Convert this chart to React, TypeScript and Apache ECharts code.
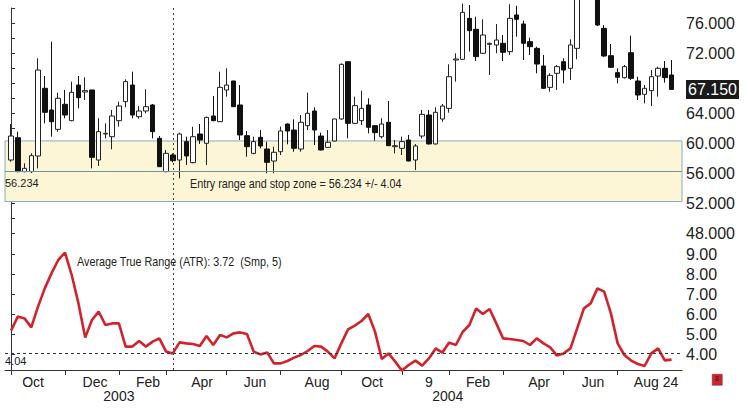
import React, { useEffect, useRef } from "react";
import * as echarts from "echarts";

// Weekly candles (index = week number)
const opens = [57.73,60.71,56.18,56.18,58.27,67.29,64.4,61.82,65.16,62.98,67.73,66.8,67.07,57.73,61.2,60.84,62.98,65.51,67.73,63.51,64.27,65.07,60.62,56.18,58.4,57.73,60.18,57.38,61.2,59.96,63.6,62.84,67.07,68.27,65.07,60.98,58.62,60.76,59.2,57.6,58.84,62.53,61.73,59.2,62.31,64.27,60.93,59.42,60.27,63.2,70.84,62.62,62.98,65.07,62.31,60.84,62.76,59.51,59.29,60.4,57.73,60.93,63.73,59.87,63.2,64.62,71.07,71.16,76.62,75.16,71.96,73.16,73.07,73.29,72.18,77.07,75.87,73.51,72.62,70.27,67.42,69.29,70.84,69.96,72.62,79.3,81.0,79.9,75.29,71.64,69.38,68.71,72.04,68.27,66.49,66.98,68.93,69.96,69.07];
const closes = [60.93,56.18,56.62,58.31,69.73,64.09,62.84,65.96,63.73,66.76,66.04,66.98,58.09,61.51,61.29,63.6,64.93,68.18,63.73,64.27,64.84,61.51,56.84,58.62,57.64,61.2,58.27,60.84,60.4,63.42,62.98,67.42,67.73,64.84,61.07,59.51,60.18,59.6,57.42,58.76,61.6,61.6,59.29,62.76,63.96,61.73,59.07,60.09,63.2,70.49,62.62,64.98,64.62,62.09,61.38,62.53,59.64,59.64,60.18,57.6,59.6,63.82,59.87,64.09,64.93,68.84,71.2,77.42,74.98,71.51,74.4,73.29,73.73,72.09,76.62,76.49,73.29,72.84,70.53,67.29,69.02,70.18,69.73,73.07,79.3,81.0,79.9,75.73,71.6,70.09,68.76,70.18,68.62,66.4,67.29,68.84,69.96,68.71,67.15];
const lows = [57.5,56.1,56.1,56.0,56.62,62.62,60.84,61.51,63.29,62.9,64.62,65.73,56.62,56.93,60.62,59.16,62.18,64.76,63.29,63.24,63.96,60.62,56.8,56.1,57.42,55.29,57.07,57.3,59.87,57.07,62.9,62.8,66.18,64.8,60.4,58.18,58.5,59.29,55.96,55.96,58.4,59.82,58.84,58.84,61.73,59.73,59.0,59.4,60.2,63.1,60.62,62.6,62.4,61.29,60.31,60.62,59.6,58.62,58.4,57.55,56.4,60.62,59.8,59.8,62.84,64.04,68.18,71.1,72.18,70.93,71.9,69.07,71.96,70.93,71.73,74.18,71.07,71.73,69.29,67.2,66.84,67.07,67.96,68.4,71.16,78.6,78.8,75.6,71.5,70.0,67.96,68.6,68.4,65.73,65.29,64.93,66.18,68.04,67.07];
const highs = [62.53,61.51,57.29,58.63,71.29,68.93,73.51,66.71,67.07,68.18,68.93,68.76,67.1,63.29,62.62,64.4,65.51,68.49,69.51,64.93,67.16,65.2,60.93,59.07,58.62,61.38,60.84,62.18,62.53,63.51,66.27,69.51,69.96,68.3,67.73,61.6,60.84,61.73,60.18,59.51,62.18,62.62,63.16,63.73,66.71,64.76,61.38,61.73,63.25,70.6,70.9,66.18,66.98,65.96,62.4,63.29,65.6,60.4,60.84,61.07,59.87,64.4,64.4,64.76,65.2,70.49,71.96,78.6,78.4,76.84,76.49,73.38,75.87,74.4,78.5,78.3,76.31,74.04,72.84,71.73,69.29,70.4,71.29,73.82,80.2,82.1,81.6,80.4,75.73,73.2,69.96,70.4,74.31,68.84,67.73,69.73,70.18,70.93,71.07];
// Average True Range (Smp, 5)
const atr = [5.17,5.87,5.78,5.33,6.37,7.28,8.03,8.7,9.07,7.95,6.53,4.82,5.7,6.12,5.45,5.53,5.53,4.37,4.37,4.65,4.37,4.62,4.78,4.12,4.03,4.58,4.53,4.5,4.4,4.9,4.45,4.95,4.83,5.03,5.08,5.0,4.12,3.98,4.08,3.53,3.53,3.65,3.82,3.95,4.15,4.4,4.37,4.12,3.78,4.53,5.23,5.42,5.65,6.0,5.12,3.75,4.03,3.62,3.17,3.45,3.67,3.42,3.78,4.28,4.07,4.57,4.45,5.1,5.45,6.28,6.0,6.25,5.53,4.78,4.75,4.7,4.65,4.45,4.78,4.53,4.33,3.92,4.03,4.28,5.28,6.28,6.53,7.28,7.12,6.03,4.53,3.95,3.67,3.5,3.4,4.03,4.28,3.68,3.72];

// Axis labels (week positions)
const monthLabelPos = [3.26, 12.46, 20.33, 28.34, 36.2, 45.4, 53.56, 62.0, 69.29, 78.34, 86.35, 95.7];
const monthLabels = ["Oct", "Dec", "Feb", "Apr", "Jun", "Aug", "Oct", "9", "Feb", "Apr", "Jun", "Aug 24"];
const monthTickPos = [0, 8, 16, 23, 32, 40, 49, 58, 65, 73, 82, 90];
const yearPos = [16, 64.8];
const yearLabels = ["2003", "2004"];
const priceLabels = [48, 52, 56, 60, 64, 72, 76];
const priceTicks = [48, 50, 52, 54, 56, 58, 60, 62, 64, 66, 68, 70, 72, 74, 76, 78];
const atrLabels = [4, 5, 6, 7, 8, 9];

const entry = 56.234;
const stopRange = 4.04;
const lastClose = 67.15;
const markerWeek = 24;
const lastAtr = 3.72;

const REG = "'Liberation Sans', Arial, sans-serif";

export default function App() {
  const ref = useRef<HTMLDivElement>(null);
  useEffect(() => {
    if (!ref.current) return;
    const chart = echarts.init(ref.current, undefined, { renderer: "svg" });
    const xMin = -0.9;
    const xMax = 99.55;
    const candleData = opens.map((o, i) => [i, o, closes[i], lows[i], highs[i]]);
    const atrData = atr.map((v, i) => [i, v]);
    const option: any = {
      animation: false,
      backgroundColor: "#fff",
      grid: [
        { left: 5, right: 68, top: 8, height: 237 },
        { left: 5, right: 68, top: 245, height: 125 },
      ],
      xAxis: [
        { gridIndex: 0, type: "value", min: xMin, max: xMax, show: false },
        {
          gridIndex: 1, type: "value", position: "bottom", min: xMin, max: xMax,
          splitLine: { show: false },
          axisLine: { show: true, lineStyle: { color: "#333", width: 1 } },
          axisTick: { show: true, customValues: monthTickPos, length: 5, lineStyle: { color: "#333" } },
          axisLabel: {
            customValues: monthLabelPos, margin: 5, fontSize: 14, fontFamily: REG, color: "#222",
            formatter: (v: number) => { const k = monthLabelPos.indexOf(v); return k >= 0 ? monthLabels[k] : ""; },
          },
        },
        {
          gridIndex: 1, type: "value", position: "bottom", offset: 0, min: xMin, max: xMax,
          splitLine: { show: false }, axisLine: { show: false }, axisTick: { show: false },
          axisLabel: {
            customValues: yearPos, margin: 19, fontSize: 14, fontFamily: REG, color: "#222",
            formatter: (v: number) => { const k = yearPos.indexOf(v); return k >= 0 ? yearLabels[k] : ""; },
          },
        },
      ],
      yAxis: [
        {
          gridIndex: 0, type: "value", position: "right", min: 46.4, max: 78,
          splitLine: { show: false },
          axisLine: { show: true, lineStyle: { color: "#333", width: 1 } },
          axisTick: { show: true, customValues: priceTicks, length: 4, lineStyle: { color: "#333" } },
          axisLabel: { customValues: priceLabels, margin: 4, fontSize: 16, fontFamily: REG, color: "#222", formatter: (v: number) => v.toFixed(3) },
        },
        {
          gridIndex: 1, type: "value", position: "right", min: 3.2, max: 9.45,
          splitLine: { show: false },
          axisLine: { show: true, lineStyle: { color: "#333", width: 1 } },
          axisTick: { show: true, customValues: atrLabels, length: 4, lineStyle: { color: "#333" } },
          axisLabel: { customValues: atrLabels, margin: 4, fontSize: 16, fontFamily: REG, color: "#222", formatter: (v: number) => v.toFixed(2) },
        },
      ],
      series: [
        {
          type: "candlestick",
          xAxisIndex: 0, yAxisIndex: 0,
          data: candleData,
          encode: { x: 0, y: [1, 2, 3, 4] },
          barWidth: 5,
          clip: true,
          itemStyle: { color: "#fff", color0: "#111", borderColor: "#222", borderColor0: "#111", borderWidth: 1 },
          markArea: {
            silent: true,
            itemStyle: { color: "#fdf6d6", borderColor: "#86aebd", borderWidth: 1 },
            data: [[{ yAxis: entry - stopRange }, { yAxis: entry + stopRange }]],
          },
          markLine: {
            silent: true,
            symbol: ["none", "none"],
            data: [
              {
                yAxis: entry,
                lineStyle: { color: "#6f95a3", width: 1, type: "solid" },
                label: { show: true, position: "insideStartBottom", formatter: entry.toFixed(3), fontSize: 11, fontFamily: REG, color: "#222", distance: [0, 6] },
              },
              { xAxis: markerWeek, lineStyle: { color: "#444", width: 1, type: [2, 3] }, label: { show: false } },
            ],
          },
        },
        {
          // invisible helper carrying the last-price tag at the right axis
          type: "line",
          xAxisIndex: 0, yAxisIndex: 0,
          data: [],
          silent: true,
          markLine: {
            silent: true,
            symbol: ["none", "none"],
            lineStyle: { color: "rgba(0,0,0,0)", width: 1 },
            data: [
              {
                yAxis: lastClose,
                label: { show: true, position: "end", distance: 4, formatter: lastClose.toFixed(3), fontSize: 16, fontFamily: REG, color: "#fff", backgroundColor: "#1a1a1a", padding: [2, 2, 1, 2] },
              },
            ],
          },
        },
        {
          type: "line",
          xAxisIndex: 1, yAxisIndex: 1,
          data: atrData,
          showSymbol: false,
          clip: false,
          lineStyle: { color: "#d3222b", width: 2.6 },
          markLine: {
            silent: true,
            symbol: ["none", "none"],
            data: [
              {
                yAxis: stopRange,
                lineStyle: { color: "#333", width: 1, type: [3, 3] },
                label: { show: true, position: "insideStartBottom", formatter: stopRange.toFixed(2), fontSize: 11, fontFamily: REG, color: "#222", distance: [0, 2] },
              },
              { xAxis: markerWeek, lineStyle: { color: "#444", width: 1, type: [2, 3] }, label: { show: false } },
            ],
          },
        },
      ],
      graphic: [
        {
          type: "text", left: 190, top: 177, z: 100, scaleX: 0.83,
          style: { text: `Entry range and stop zone = ${entry} +/- ${stopRange.toFixed(2)}`, fontSize: 13, fontFamily: REG, fill: "#222" },
        },
        {
          type: "text", left: 77, top: 255, z: 100, scaleX: 0.83,
          style: { text: `Average True Range (ATR): ${lastAtr.toFixed(2)}  (Smp, 5)`, fontSize: 13, fontFamily: REG, fill: "#222" },
        },
        { type: "rect", left: 712, top: 374, z: 100, shape: { width: 10, height: 11 }, style: { fill: "#c9262e", stroke: "#8a1a1f", lineWidth: 0.5 } },
        { type: "text", left: 715, top: 375, z: 101, style: { text: "8", fontSize: 7, fontFamily: REG, fill: "#5a0a0e" } },
      ],
    };
    chart.setOption(option);
    return () => chart.dispose();
  }, []);
  return <div ref={ref} style={{ position: "fixed", left: 0, top: 0, width: 750, height: 419 }} />;
}
